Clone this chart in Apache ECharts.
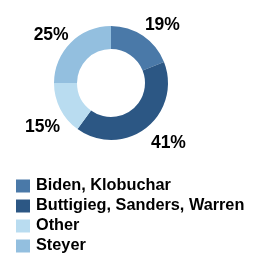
<!DOCTYPE html>
<html><head><meta charset="utf-8">
<script src="https://cdn.jsdelivr.net/npm/echarts@6/dist/echarts.min.js"></script>
<style>html,body{margin:0;padding:0;background:#fff}#c{width:279px;height:279px}</style>
</head><body><div id="c"></div>
<script>
const categories = ['Biden, Klobuchar', 'Buttigieg, Sanders, Warren', 'Other', 'Steyer'];
const values = [19, 41, 15, 25];
const colors = ['#4a79a8', '#2c5784', '#b9dcf0', '#93bfdf'];
const labelOffsets = [[7, 8], [9, -2], [2, 8], [-4, 8]];

const chart = echarts.init(document.getElementById('c'), null, {renderer: 'canvas'});
chart.setOption({
  animation: false,
  color: colors,
  legend: {
    orient: 'vertical', left: 11, top: 173,
    itemWidth: 14, itemHeight: 13, itemGap: 4,
    icon: 'rect',
    textStyle: {fontFamily: 'Liberation Sans, Arial', fontSize: 16.3, fontWeight: 'bold', color: '#000', padding: [0,0,0,1]},
    data: categories
  },
  series: [{
    type: 'pie',
    center: [111, 83],
    radius: [34, 57],
    startAngle: 90,
    clockwise: true,
    avoidLabelOverlap: false,
    label: {
      show: true, position: 'outside',
      formatter: '{c}%',
      fontFamily: 'Liberation Sans, Arial', fontSize: 17.5, fontWeight: 'bold', color: '#000',
      distanceToLabelLine: 0
    },
    labelLine: {show: false, length: 22, length2: 0},
    labelLayout: function () { return {align: 'center', verticalAlign: 'middle'}; },
    emphasis: {disabled: true},
    data: categories.map((n, i) => ({name: n, value: values[i], label: {offset: labelOffsets[i]}}))
  }]
});
</script></body></html>
